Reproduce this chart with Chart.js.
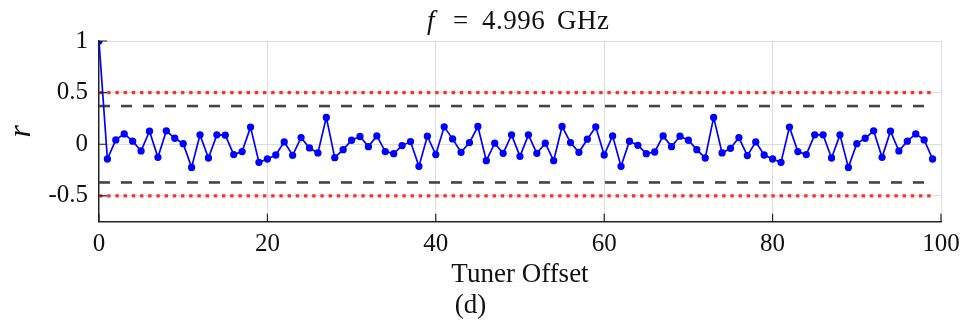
<!DOCTYPE html>
<html>
<head>
<meta charset="utf-8">
<script src="https://cdn.jsdelivr.net/npm/chart.js@4/dist/chart.umd.min.js"></script>
<style>
  html, body { margin: 0; padding: 0; background: #fff; }
  #wrap { width: 968px; height: 324px; }
</style>
</head>
<body>
<div id="wrap"><canvas id="chart"></canvas></div>
<script>
// r value for each tuner offset 0..99
const rValues = [
  1.000, -0.143, 0.042, 0.100, 0.030, -0.065, 0.127, -0.127, 0.130, 0.058,
  0.006, -0.224, 0.091, -0.133, 0.091, 0.088, -0.100, -0.071, 0.166, -0.175,
  -0.143, -0.104, 0.023, -0.107, 0.065, -0.036, -0.084, 0.260, -0.130, -0.052,
  0.039, 0.075, -0.023, 0.081, -0.071, -0.091, -0.013, 0.026, -0.214, 0.078,
  -0.100, 0.169, 0.052, -0.078, 0.016, 0.172, -0.159, 0.010, -0.088, 0.091,
  -0.117, 0.091, -0.088, 0.010, -0.159, 0.172, 0.016, -0.078, 0.049, 0.169,
  -0.104, 0.081, -0.214, 0.029, -0.010, -0.091, -0.075, 0.081, -0.023, 0.078,
  0.039, -0.052, -0.133, 0.260, -0.084, -0.039, 0.065, -0.110, 0.023, -0.104,
  -0.143, -0.175, 0.166, -0.071, -0.100, 0.091, 0.091, -0.133, 0.091, -0.224,
  0.006, 0.058, 0.130, -0.127, 0.127, -0.065, 0.030, 0.100, 0.042, -0.143
];

// threshold lines
const redLevel = 0.5;
const blackLevel = 0.37;
const lineStart = 0;
const lineEnd = 99;

// axes
const xTicks = [0, 20, 40, 60, 80, 100];
const yTicks = [-0.5, 0, 0.5, 1];
const yLabels = { "-0.5": "-0.5", "0": "0", "0.5": "0.5", "1": "1" };

// title pieces: text, italic?, left offset from plot centre
const titleParts = [["f", true, -93], ["=", false, -67], ["4.996", false, -38], ["GHz", false, 37]];

const serif = "'Liberation Serif', 'DejaVu Serif', serif";

function hline(level) {
  return [{ x: lineStart, y: level }, { x: lineEnd, y: level }];
}

// inward ticks + title with italic f
const extras = {
  id: "extras",
  afterDraw(chart) {
    const ctx = chart.ctx;
    const xs = chart.scales.x, ys = chart.scales.y;
    const area = chart.chartArea;
    ctx.save();
    ctx.strokeStyle = "#222";
    ctx.lineWidth = 1.2;
    ctx.beginPath();
    xTicks.forEach(v => {
      const px = xs.getPixelForValue(v);
      ctx.moveTo(px, area.bottom);
      ctx.lineTo(px, area.bottom - 8);
    });
    yTicks.forEach(v => {
      const py = ys.getPixelForValue(v);
      ctx.moveTo(area.left, py);
      ctx.lineTo(area.left + 8, py);
    });
    ctx.stroke();

    // title
    ctx.fillStyle = "#111";
    ctx.textBaseline = "alphabetic";
    ctx.textAlign = "left";
    ctx.letterSpacing = "0.5px";
    const cx = (area.left + area.right) / 2;
    titleParts.forEach(([txt, it, dx]) => {
      ctx.font = (it ? "italic " : "") + "27px " + serif;
      ctx.fillText(txt, cx + dx, 29);
    });
    ctx.restore();
  }
};

new Chart(document.getElementById("chart"), {
  type: "line",
  data: {
    datasets: [
      {
        label: "r",
        data: rValues.map((r, i) => ({ x: i, y: r })),
        borderColor: "#0000ff",
        backgroundColor: "#0000ff",
        borderWidth: 1.7,
        pointRadius: 2.8,
        pointHoverRadius: 2.8,
        tension: 0,
        order: 0
      },
      {
        data: hline(redLevel),
        borderColor: "#ff2e2e",
        borderWidth: 3.4,
        borderDash: [3.4, 4.8],
        pointRadius: 0,
        order: 2
      },
      {
        data: hline(-redLevel),
        borderColor: "#ff2e2e",
        borderWidth: 3.4,
        borderDash: [3.4, 4.8],
        pointRadius: 0,
        order: 2
      },
      {
        data: hline(blackLevel),
        borderColor: "#444444",
        borderWidth: 2.6,
        borderDash: [11, 11],
        pointRadius: 0,
        order: 1
      },
      {
        data: hline(-blackLevel),
        borderColor: "#444444",
        borderWidth: 2.6,
        borderDash: [11, 11],
        pointRadius: 0,
        order: 1
      }
    ]
  },
  options: {
    responsive: true,
    maintainAspectRatio: false,
    animation: false,
    layout: { padding: { top: 41, right: 27, left: 0, bottom: 0 } },
    plugins: {
      legend: { display: false },
      tooltip: { enabled: false },
      subtitle: {
        display: true,
        position: "bottom",
        text: "(d)",
        color: "#111",
        font: { family: serif, size: 27 },
        padding: { top: -1, bottom: 1.5 }
      }
    },
    scales: {
      x: {
        type: "linear",
        min: 0,
        max: 100,
        afterBuildTicks: s => { s.ticks = xTicks.map(v => ({ value: v })); },
        grid: { color: "#dddddd", lineWidth: 1, drawTicks: false },
        border: { color: "#222", width: 1.5 },
        ticks: {
          color: "#111",
          font: { family: serif, size: 25 },
          padding: 7.5,
          maxRotation: 0
        },
        title: {
          display: true,
          text: "Tuner Offset",
          color: "#111",
          font: { family: serif, size: 27 },
          padding: { top: -8, bottom: 0 }
        }
      },
      y: {
        min: -0.75,
        max: 1,
        afterBuildTicks: s => { s.ticks = yTicks.map(v => ({ value: v })); },
        grid: { color: "#dddddd", lineWidth: 1, drawTicks: false },
        border: { color: "#222", width: 1.5 },
        ticks: {
          color: "#111",
          font: { family: serif, size: 25 },
          padding: 11,
          callback: v => yLabels[String(v)]
        },
        title: {
          display: true,
          text: "r",
          color: "#111",
          font: { family: serif, size: 32, style: "italic" },
          padding: { top: 2, bottom: -3 }
        }
      }
    }
  },
  plugins: [extras]
});
</script>
</body>
</html>
